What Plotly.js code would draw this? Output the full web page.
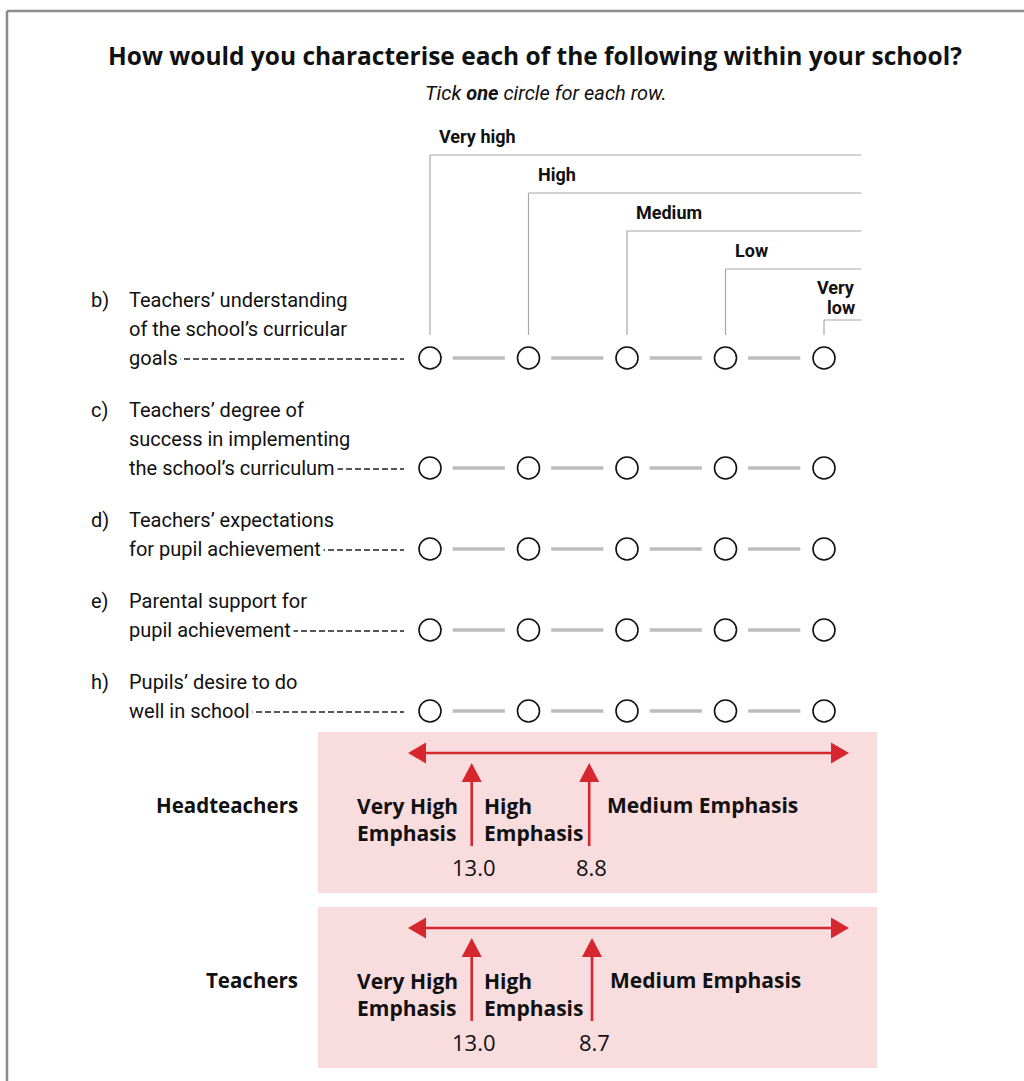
<!DOCTYPE html>
<html>
<head>
<meta charset="utf-8">
<script src="https://cdn.plot.ly/plotly-3.0.1.min.js"></script>
<style>html,body{margin:0;padding:0;background:#fff;}#chart{width:1024px;height:1081px;}</style>
</head>
<body>
<div id="chart"></div>
<script>
// ---------- data ----------
const titleText = 'How would you characterise each of the following within your school?';
const subtitleText = 'Tick <b>one</b> circle for each row.';
const scaleCategories = ['Very high', 'High', 'Medium', 'Low', 'Very<br>low'];
const rowLetters = ['b)', 'c)', 'd)', 'e)', 'h)'];
const rowLabels = [
  ['Teachers\u2019 understanding', 'of the school\u2019s curricular', 'goals'],
  ['Teachers\u2019 degree of', 'success in implementing', 'the school\u2019s curriculum'],
  ['Teachers\u2019 expectations', 'for pupil achievement'],
  ['Parental support for', 'pupil achievement'],
  ['Pupils\u2019 desire to do', 'well in school']
];
const groups = ['Headteachers', 'Teachers'];
const veryHighCut = [13.0, 13.0];
const highCut = [8.8, 8.7];
const zoneLabels = ['Very High<br>Emphasis', 'High<br>Emphasis', 'Medium Emphasis'];

// ---------- styles ----------
const RED = '#d6262e';
const PINK = '#f8dcde';
const labelFont = 'Roboto, sans-serif';
const boxFont = 'Open Sans, Noto Sans, sans-serif';

// layout geometry
const firstRowY = 358, lineGap = 29, rowGap = 52;
const rowY = [];
rowLabels.forEach((lines, r) => {
  if (r === 0) rowY.push(firstRowY);
  else rowY.push(rowY[r - 1] + rowGap + (lines.length - 1) * lineGap);
});

const traces = [];
const shapes = [];
const annotations = [];

// border
shapes.push({type: 'line', xref: 'x', yref: 'y', x0: 7, x1: 1024, y0: 11, y1: 11, line: {color: '#8c8c8c', width: 2.5}});
shapes.push({type: 'line', xref: 'x', yref: 'y', x0: 7, x1: 7, y0: 11, y1: 1081, line: {color: '#8c8c8c', width: 2.5}});

// title
annotations.push({xref: 'x', yref: 'y', x: 535, y: 55, text: '<b>' + titleText + '</b>', showarrow: false,
  xanchor: 'center', yanchor: 'middle', font: {family: 'Open Sans, sans-serif', size: 24.5, color: '#111'}});
annotations.push({xref: 'x', yref: 'y', x: 546, y: 93, text: subtitleText, showarrow: false,
  xanchor: 'center', yanchor: 'middle', font: {family: labelFont, size: 20, style: 'italic', color: '#111'}});

// scale header brackets
const bracketEnd = 4.38;
scaleCategories.forEach((c, i) => {
  const parts = c.split('<br>');
  const nl = parts.length;
  const yLine = 155 + i * 38 + (nl - 1) * 13;
  shapes.push({type: 'line', xref: 'x2', yref: 'y', x0: i, x1: i, y0: 335, y1: yLine, line: {color: '#a8a8a8', width: 1.2}});
  shapes.push({type: 'line', xref: 'x2', yref: 'y', x0: i, x1: bracketEnd, y0: yLine, y1: yLine, line: {color: '#a8a8a8', width: 1.2}});
  const last = i === scaleCategories.length - 1;
  parts.forEach((p, k) => {
    annotations.push({xref: 'x2', yref: 'y', x: last ? bracketEnd - 0.04 : i, xshift: last ? 0 : 7,
      y: yLine - 13 - (nl - 1 - k) * 20 - (last ? 0 : 6), text: '<b>' + p + '</b>', showarrow: false,
      xanchor: last ? 'right' : 'left', yanchor: 'middle',
      font: {family: labelFont, size: 18, color: '#111'}});
  });
});

// rows: labels, leaders, connectors, circles
const cx = [], cy = [], lx = [], ly = [], dx = [], dy = [];
rowLabels.forEach((lines, r) => {
  const y = rowY[r];
  const n = lines.length;
  annotations.push({xref: 'x', yref: 'y', x: 89, y: y - (n - 1) * lineGap, text: rowLetters[r], showarrow: false,
    xanchor: 'left', yanchor: 'middle', font: {family: labelFont, size: 20, color: '#111'}});
  lines.forEach((t, k) => {
    const isLast = k === n - 1;
    annotations.push({xref: 'x', yref: 'y', x: 126, y: y - (n - 1 - k) * lineGap, text: t, showarrow: false,
      xanchor: 'left', yanchor: 'middle', bgcolor: isLast ? '#ffffff' : 'rgba(0,0,0,0)', borderpad: 2,
      font: {family: labelFont, size: 20, color: '#111'}});
  });
  dx.push(130, 404, null); dy.push(y + 1, y + 1, null);
  scaleCategories.forEach((c, i) => {
    cx.push(i); cy.push(y);
    if (i < scaleCategories.length - 1) { lx.push(i + 0.23, i + 0.76, null); ly.push(y, y, null); }
  });
});
traces.push({type: 'scatter', mode: 'lines', xaxis: 'x', yaxis: 'y', x: dx, y: dy, hoverinfo: 'skip', showlegend: false,
  line: {color: '#222', width: 1.6, dash: '6px,3px'}});
traces.push({type: 'scatter', mode: 'lines', xaxis: 'x2', yaxis: 'y', x: lx, y: ly, hoverinfo: 'skip', showlegend: false,
  line: {color: '#bdbdbd', width: 3.5}});
traces.push({type: 'scatter', mode: 'markers', xaxis: 'x2', yaxis: 'y', x: cx, y: cy, hoverinfo: 'skip', showlegend: false,
  marker: {symbol: 'circle-open', size: 22, color: '#111', line: {width: 1.6}}});

// emphasis boxes
const boxTop = 732, boxStep = 175;
const ax = [], ay = [];
groups.forEach((g, k) => {
  const o = k * boxStep;
  shapes.push({type: 'rect', xref: 'x', yref: 'y', x0: 318, x1: 877, y0: boxTop + o, y1: boxTop + o + 161,
    fillcolor: PINK, line: {width: 0}, layer: 'below'});
  const ya = 753 + o;
  shapes.push({type: 'line', xref: 'x', yref: 'y', x0: 420, x1: 838, y0: ya, y1: ya, line: {color: RED, width: 2.6}});
  shapes.push({type: 'path', xref: 'x', yref: 'y', path: `M 408 ${ya} L 426 ${ya - 10.5} L 426 ${ya + 10.5} Z`,
    fillcolor: RED, line: {width: 0}});
  shapes.push({type: 'path', xref: 'x', yref: 'y', path: `M 849 ${ya} L 831 ${ya - 10.5} L 831 ${ya + 10.5} Z`,
    fillcolor: RED, line: {width: 0}});
  [veryHighCut[k], highCut[k]].forEach(v => {
    ax.push(v, v, null); ay.push(846 + o, 778 + o, null);
    shapes.push({type: 'path', xref: 'x3', yref: 'y', xsizemode: 'pixel', xanchor: v,
      path: `M 0 ${763 + o} L 10 ${782 + o} L -10 ${782 + o} Z`, fillcolor: RED, line: {width: 0}});
    annotations.push({xref: 'x3', yref: 'y', x: v, xshift: 2, y: 867 + o, text: v.toFixed(1), showarrow: false,
      xanchor: 'center', yanchor: 'middle', font: {family: boxFont, size: 22, color: '#111'}});
  });
  annotations.push({xref: 'x', yref: 'y', x: 300, y: 805 + o, text: '<b>' + g + '</b>', showarrow: false,
    xanchor: 'right', yanchor: 'middle', font: {family: boxFont, size: 20.5, color: '#111'}});
  annotations.push({xref: 'x3', yref: 'y', x: veryHighCut[k], xshift: -12, y: 819 + o, text: '<b>' + zoneLabels[0] + '</b>',
    showarrow: false, xanchor: 'right', yanchor: 'middle', align: 'left', font: {family: boxFont, size: 21, color: '#111'}});
  annotations.push({xref: 'x3', yref: 'y', x: veryHighCut[k], xshift: 10, y: 819 + o, text: '<b>' + zoneLabels[1] + '</b>',
    showarrow: false, xanchor: 'left', yanchor: 'middle', align: 'left', font: {family: boxFont, size: 21, color: '#111'}});
  annotations.push({xref: 'x3', yref: 'y', x: highCut[k], xshift: 16, y: 805 + o, text: '<b>' + zoneLabels[2] + '</b>',
    showarrow: false, xanchor: 'left', yanchor: 'middle', align: 'left', font: {family: boxFont, size: 21, color: '#111'}});
});
traces.push({type: 'scatter', mode: 'lines', xaxis: 'x3', yaxis: 'y', x: ax, y: ay, hoverinfo: 'skip', showlegend: false,
  line: {color: RED, width: 2.6}});

const layout = {
  width: 1024, height: 1081,
  margin: {l: 0, r: 0, t: 0, b: 0, pad: 0},
  paper_bgcolor: '#ffffff', plot_bgcolor: '#ffffff',
  showlegend: false,
  xaxis: {range: [0, 1024], visible: false, fixedrange: true},
  xaxis2: {range: [-4.3655, 6.0305], overlaying: 'x', visible: false, fixedrange: true},
  xaxis3: {range: [29.861, -6.742], overlaying: 'x', visible: false, fixedrange: true},
  yaxis: {range: [1081, 0], visible: false, fixedrange: true},
  shapes: shapes,
  annotations: annotations
};
Plotly.newPlot('chart', traces, layout, {displayModeBar: false, staticPlot: true});
</script>
</body>
</html>
